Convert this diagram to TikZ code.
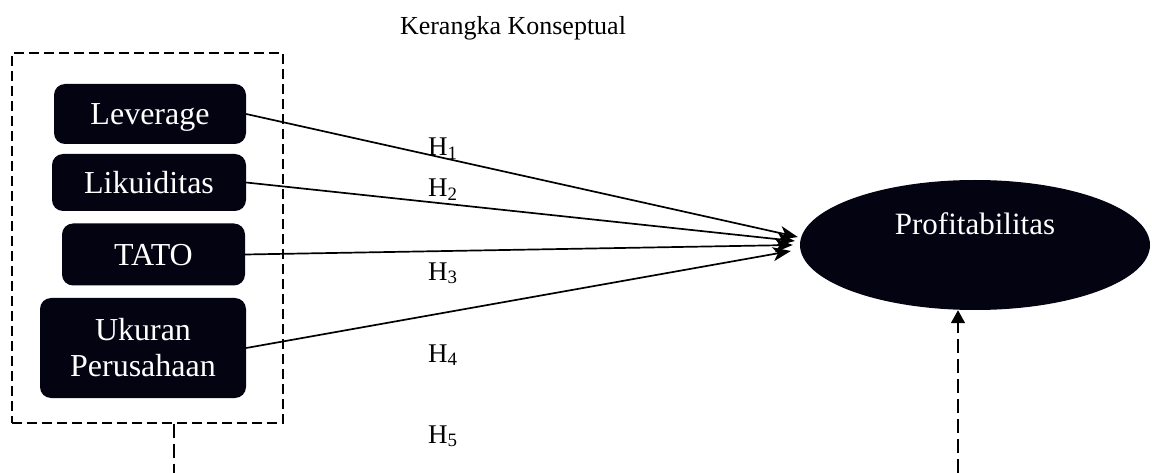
\documentclass[tikz,border=0pt]{standalone}
\usepackage{fontspec}
\setmainfont{Liberation Serif}
\usetikzlibrary{arrows.meta,shapes.geometric}
\definecolor{boxfill}{RGB}{3,3,18}
\begin{document}
\begin{tikzpicture}[x=1pt,y=-1pt,
  varbox/.style={draw=none, fill=boxfill, rounded corners=11pt, text=white,
    font=\fontsize{32}{36}\selectfont, inner sep=0pt},
  grpbox/.style={draw, line width=1.4pt, dash pattern=on 10pt off 5pt, inner sep=0pt},
  dashline/.style={line width=1.6pt, dash pattern=on 14pt off 6pt},
  hlabel/.style={font=\fontsize{27}{30}\selectfont, anchor=base west, inner sep=0pt},
  link/.style={line width=1.7pt, -{Stealth[length=18pt,width=14pt,inset=5pt]}},
  uparrow/.style={dashline, -{Triangle[length=13pt,width=14pt]}}]
\useasboundingbox (0,0) rectangle (1152,473);

\node[font=\fontsize{26}{30}\selectfont, anchor=base, inner sep=0pt] (title) at (513,35) {Kerangka Konseptual};

\node[grpbox, minimum width=271pt, minimum height=370pt] (grp) at (147.5,238) {};

\node[varbox, minimum width=192pt, minimum height=60pt, text height=22pt, text depth=0pt] (lev) at (150,114) {Leverage};
\node[varbox, minimum width=194pt, minimum height=57pt, text height=22pt, text depth=0pt] (lik) at (149,182.5) {Likuiditas};
\node[varbox, minimum width=183pt, minimum height=62pt, text height=22pt, text depth=0pt] (tato) at (153.5,254.5) {TATO};
\node[varbox, minimum width=206pt, minimum height=100pt, align=center] (uk) at (143,348) {Ukuran\\Perusahaan};

\node[ellipse, fill=boxfill, minimum width=350pt, minimum height=130pt, inner sep=0pt] (prof) at (975,245) {};
\node[font=\fontsize{31}{34}\selectfont, text=white, anchor=base, inner sep=0pt] (proft) at (975,235) {Profitabilitas};

\draw[link] (lev.east) -- ([xshift=-2pt,yshift=8pt]prof.west);
\draw[link] (lik.east) -- ([xshift=-5pt,yshift=4pt]prof.west);
\draw[link] (tato.east) -- ([xshift=-7pt]prof.west);
\draw[link] (uk.east) -- ([xshift=-9pt,yshift=-6pt]prof.west);

\node[hlabel] (h1) at (428,156) {H\textsubscript{1}};
\node[hlabel] (h2) at (428,197) {H\textsubscript{2}};
\node[hlabel] (h3) at (428,280) {H\textsubscript{3}};
\node[hlabel] (h4) at (428,362) {H\textsubscript{4}};
\node[hlabel] (h5) at (428,443) {H\textsubscript{5}};

\coordinate (bl) at (174,473);
\coordinate (br) at (958,473);
\draw[dashline] (grp.south -| bl) -- (bl);
\draw[uparrow] (br) -- (br |- prof.south);
\end{tikzpicture}
\end{document}
